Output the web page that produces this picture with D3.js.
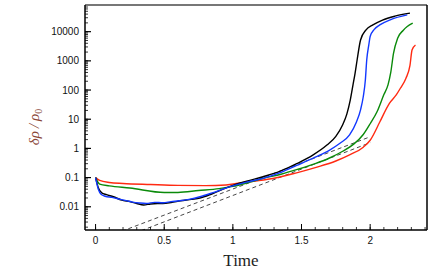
<!DOCTYPE html>
<head>
    <script src="https://d3js.org/d3.v7.min.js"></script>
</head>
<style>
body {
    margin: 0;
    background: #fff;
    font-family: "Liberation Sans", Arial, sans-serif;
}
.tick-label {
    font-size: 10px;
    fill: #111;
}
</style>
<body>
    <svg></svg>
</body>

<script>

    // Data: time and density perturbation for each run
    var redT = [0, 0.03, 0.1, 0.2, 0.4, 0.6, 0.8, 0.95, 1.05, 1.15, 1.3, 1.45, 1.6, 1.75, 1.85, 1.95, 2.0, 2.07, 2.14, 2.19, 2.22, 2.26, 2.29, 2.305, 2.33];
    var redV = [0.1, 0.08, 0.068, 0.063, 0.058, 0.054, 0.053, 0.056, 0.065, 0.075, 0.095, 0.14, 0.22, 0.37, 0.6, 1.1, 1.9, 8, 35, 68, 115, 250, 700, 2350, 3500];

    var greenT = [0, 0.03, 0.1, 0.25, 0.5, 0.6, 0.75, 0.9, 1.0, 1.1, 1.22, 1.35, 1.47, 1.6, 1.7, 1.8, 1.88, 1.95, 2.0, 2.05, 2.1, 2.13, 2.15, 2.17, 2.2, 2.24, 2.27, 2.31];
    var greenV = [0.1, 0.06, 0.052, 0.044, 0.031, 0.031, 0.036, 0.042, 0.05, 0.065, 0.094, 0.13, 0.19, 0.3, 0.46, 0.8, 1.4, 3, 7, 18, 70, 150, 400, 1800, 6000, 11000, 15000, 19500];

    var blueT = [0, 0.02, 0.04, 0.07, 0.12, 0.18, 0.23, 0.27, 0.32, 0.37, 0.43, 0.49, 0.55, 0.61, 0.68, 0.76, 0.85, 0.98, 1.1, 1.22, 1.35, 1.465, 1.6, 1.705, 1.78, 1.85, 1.9, 1.93, 1.95, 1.965, 1.975, 1.99, 2.0, 2.03, 2.07, 2.15, 2.27];
    var blueV = [0.1, 0.04, 0.027, 0.023, 0.021, 0.018, 0.016, 0.0145, 0.0135, 0.013, 0.0142, 0.0138, 0.015, 0.016, 0.018, 0.022, 0.03, 0.049, 0.07, 0.094, 0.15, 0.26, 0.5, 0.88, 1.5, 2.9, 8, 21, 60, 220, 1070, 3500, 6800, 12000, 17000, 26000, 37500];

    var blackT = [0, 0.02, 0.045, 0.08, 0.13, 0.19, 0.25, 0.3, 0.35, 0.4, 0.45, 0.49, 0.55, 0.62, 0.7, 0.76, 0.85, 0.98, 1.1, 1.22, 1.35, 1.465, 1.585, 1.685, 1.75, 1.8, 1.83, 1.855, 1.875, 1.89, 1.905, 1.93, 1.97, 2.02, 2.09, 2.18, 2.29];
    var blackV = [0.1, 0.045, 0.03, 0.026, 0.022, 0.017, 0.015, 0.013, 0.0115, 0.0125, 0.013, 0.013, 0.014, 0.016, 0.018, 0.02, 0.028, 0.05, 0.075, 0.107, 0.17, 0.3, 0.6, 1.3, 2.6, 6.5, 15, 45, 150, 375, 1070, 5200, 11500, 17000, 25000, 34000, 43000];

    // two dashed reference lines (exponential growth), end points
    var dashUpperT = [0, 2.0];
    var dashUpperV = [0.00066, 2.5];
    var dashLowerT = [0, 2.0];
    var dashLowerV = [0.00038, 1.57];

    var xTickVals = [0, 0.5, 1, 1.5, 2];
    var xTickLabels = ["0", "0.5", "1", "1.5", "2"];
    var yTickVals = [0.01, 0.1, 1, 10, 100, 1000, 10000];
    var yTickLabels = ["0.01", "0.1", "1", "10", "100", "1000", "10000"];

    // Variables
    var width = 436;
    var height = 279;
    var margin = {top: 5, right: 9, bottom: 49, left: 85};
    var innerW = width - margin.left - margin.right;
    var innerH = height - margin.top - margin.bottom;

    var svg = d3.select('svg')
        .attr('width', width)
        .attr('height', height);

    var g = svg.append('g')
        .attr('transform', 'translate(' + margin.left + ',' + margin.top + ')');

    var x = d3.scaleLinear().domain([-0.077, 2.414]).range([0, innerW]);
    var y = d3.scaleLog().domain([0.0016, 82000]).range([innerH, 0]);

    g.append('clipPath').attr('id', 'clip')
        .append('rect').attr('width', innerW).attr('height', innerH);

    var plot = g.append('g').attr('clip-path', 'url(#clip)');

    function toPts(ts, vs) {
        return ts.map(function (t, i) { return [t, vs[i]]; });
    }

    var line = d3.line()
        .x(function (d) { return x(d[0]); })
        .y(function (d) { return y(d[1]); })
        .curve(d3.curveMonotoneX);

    // dashed reference lines
    [[dashUpperT, dashUpperV], [dashLowerT, dashLowerV]].forEach(function (p) {
        plot.append('path')
            .attr('d', d3.line().x(function (d) { return x(d[0]); }).y(function (d) { return y(d[1]); })(toPts(p[0], p[1])))
            .attr('fill', 'none')
            .attr('stroke', '#333')
            .attr('stroke-width', 0.9)
            .attr('stroke-dasharray', '4,3');
    });

    var series = [
        {t: redT, v: redV, color: '#ff2a12'},
        {t: greenT, v: greenV, color: '#0a8a0a'},
        {t: blackT, v: blackV, color: '#000000'},
        {t: blueT, v: blueV, color: '#1238ff'}
    ];

    series.forEach(function (s) {
        plot.append('path')
            .attr('d', line(toPts(s.t, s.v)))
            .attr('fill', 'none')
            .attr('stroke', s.color)
            .attr('stroke-width', 1.4);
    });

    // ticks, pointing inwards
    var minorX = d3.range(0, 2.41, 0.1);
    g.selectAll('line.xminor').data(minorX).enter().append('line')
        .attr('x1', function (d) { return x(d); }).attr('x2', function (d) { return x(d); })
        .attr('y1', innerH).attr('y2', innerH - 3)
        .attr('stroke', '#000').attr('stroke-width', 0.8);
    g.selectAll('line.xmajor').data(xTickVals).enter().append('line')
        .attr('x1', function (d) { return x(d); }).attr('x2', function (d) { return x(d); })
        .attr('y1', innerH).attr('y2', innerH - 6)
        .attr('stroke', '#000').attr('stroke-width', 1);

    var minorY = y.ticks().filter(function (d) { return d >= y.domain()[0] && d <= y.domain()[1]; });
    g.selectAll('line.yminor').data(minorY).enter().append('line')
        .attr('x1', 0).attr('x2', 3)
        .attr('y1', function (d) { return y(d); }).attr('y2', function (d) { return y(d); })
        .attr('stroke', '#000').attr('stroke-width', 0.8);
    g.selectAll('line.ymajor').data(yTickVals).enter().append('line')
        .attr('x1', 0).attr('x2', 6)
        .attr('y1', function (d) { return y(d); }).attr('y2', function (d) { return y(d); })
        .attr('stroke', '#000').attr('stroke-width', 1.2);

    // frame
    g.append('line').attr('x1', 0).attr('x2', innerW).attr('y1', 0).attr('y2', 0)
        .attr('stroke', '#777').attr('stroke-width', 2);
    g.append('line').attr('x1', innerW).attr('x2', innerW).attr('y1', 0).attr('y2', innerH)
        .attr('stroke', '#000').attr('stroke-width', 1.5);
    g.append('line').attr('x1', 0).attr('x2', innerW).attr('y1', innerH).attr('y2', innerH)
        .attr('stroke', '#000').attr('stroke-width', 1.5);
    g.append('line').attr('x1', 0).attr('x2', 0).attr('y1', 0).attr('y2', innerH)
        .attr('stroke', '#000').attr('stroke-width', 1.5);

    // tick labels
    g.selectAll('text.xl').data(xTickVals).enter().append('text')
        .attr('class', 'tick-label')
        .attr('x', function (d) { return x(d); })
        .attr('y', innerH + 14)
        .attr('text-anchor', 'middle')
        .text(function (d, i) { return xTickLabels[i]; });

    g.selectAll('text.yl').data(yTickVals).enter().append('text')
        .attr('class', 'tick-label')
        .attr('x', -6)
        .attr('y', function (d) { return y(d); })
        .attr('dy', '0.35em')
        .attr('text-anchor', 'end')
        .text(function (d, i) { return yTickLabels[i]; });

    // axis titles
    svg.append('text')
        .attr('x', 241)
        .attr('y', 266)
        .attr('text-anchor', 'middle')
        .style('font-family', '"Liberation Serif", "DejaVu Serif", serif')
        .style('font-size', '17px')
        .style('fill', '#222')
        .text('Time');

    var yl = svg.append('text')
        .attr('transform', 'translate(39,127)rotate(-90)')
        .attr('text-anchor', 'middle')
        .style('font-family', '"Liberation Serif", "DejaVu Serif", serif')
        .style('font-style', 'italic')
        .style('font-size', '15px')
        .style('fill', '#8a4536');
    yl.append('tspan').text('δρ\u2009/\u2009ρ');
    yl.append('tspan').attr('dy', 3).style('font-size', '10px').style('font-style', 'normal').text('0');

</script>
